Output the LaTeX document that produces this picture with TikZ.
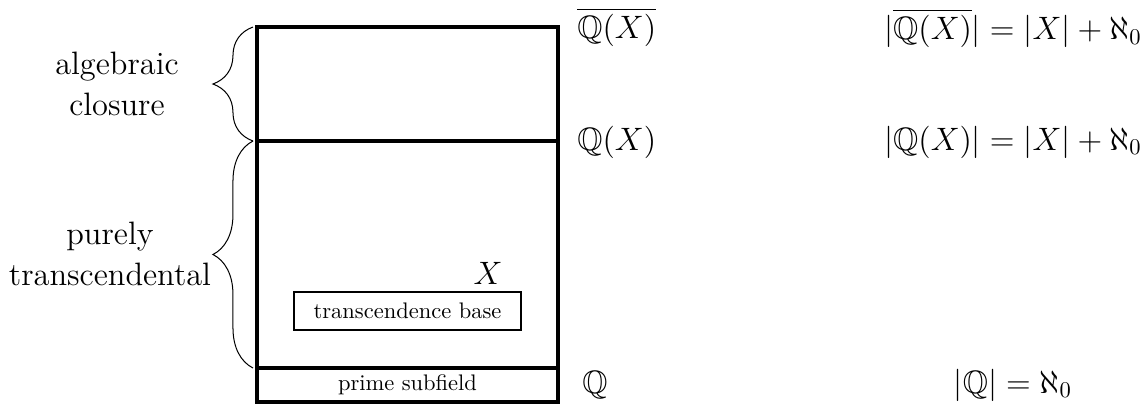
\documentclass[tikz,border=0pt]{standalone}
\usepackage{amssymb}
\usetikzlibrary{decorations.pathreplacing}
\begin{document}
\begin{tikzpicture}[x=0.44444pt,y=-0.44444pt,
  region/.style={line width=1.8pt},
  bracestyle/.style={decorate,decoration={brace,amplitude=17.8pt},line width=0.45pt},
  lab/.style={font=\Large,inner sep=0pt},
  sidelab/.style={font=\Large,align=center,inner sep=0pt},
  smalllab/.style={font=\normalsize,inner sep=0pt},
  basebox/.style={draw,line width=0.6pt,minimum width=101pt,minimum height=17pt,inner sep=0pt}]
\useasboundingbox (0,0) rectangle (1142,405);
% regions of the field tower
\draw[region] (257,27) rectangle (558,402);
\draw[region] (257,141) -- (558,141);
\draw[region] (257,368) -- (558,368);
% brace end points
\coordinate (b1) at (253,27);
\coordinate (b2) at (253,141);
\coordinate (b3) at (253,368);
\draw[bracestyle] (b2) -- (b1);
\draw[bracestyle] (b3) -- (b2);
% side labels
\node[sidelab] (alg) at (117,84) {algebraic\\closure};
\node[sidelab] (pur) at (110,254) {purely\\transcendental};
% inner content
\node[basebox] (tb) at (407.5,311) {transcendence base};
\node[lab] (X) at (488,273) {$X$};
\node[smalllab] (ps) at (407.5,385) {prime subfield};
% field names
\node[lab,anchor=west] (qbar) at (577,27) {$\overline{\mathbb{Q}(X)}$};
\node[lab,anchor=west] (qx) at (577,142) {$\mathbb{Q}(X)$};
\node[lab,anchor=west] (q) at (582,385) {$\mathbb{Q}$};
% cardinalities
\node[lab] (cqbar) at (1013,28) {$|\overline{\mathbb{Q}(X)}| = |X| + \aleph_0$};
\node[lab] (cqx) at (1013,142) {$|\mathbb{Q}(X)| = |X| + \aleph_0$};
\node[lab] (cq) at (1013,385) {$|\mathbb{Q}| = \aleph_0$};
\end{tikzpicture}
\end{document}
